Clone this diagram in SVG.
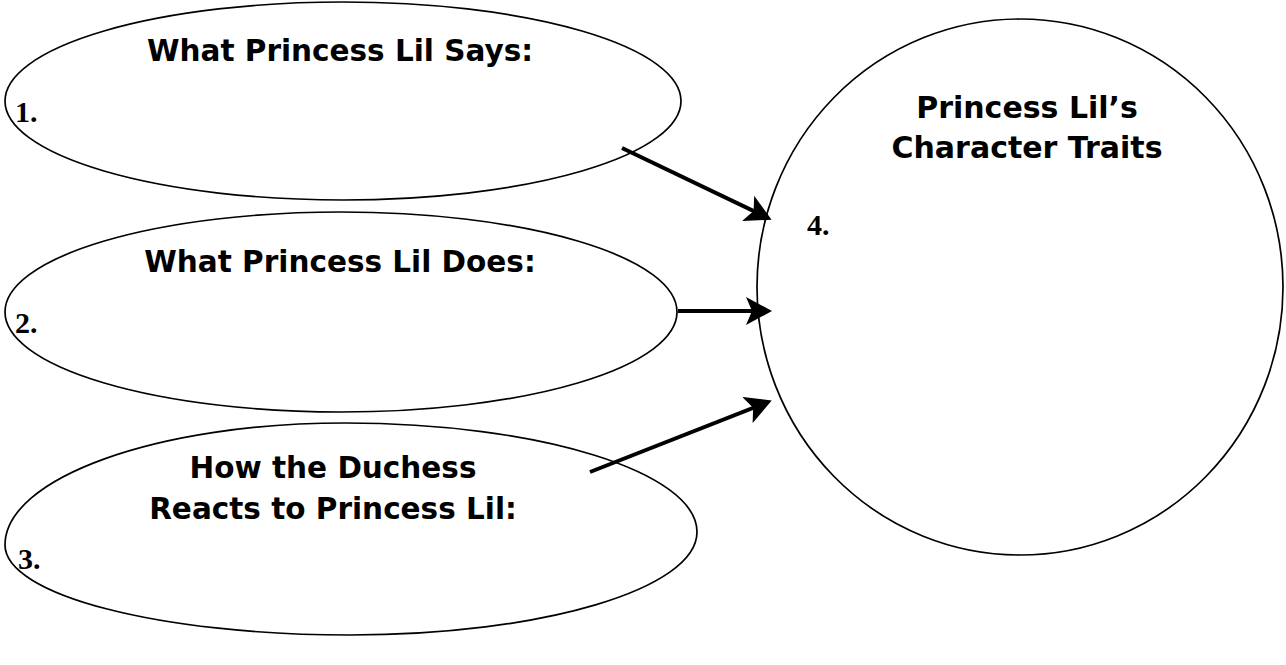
<svg xmlns="http://www.w3.org/2000/svg" width="1286" height="665" viewBox="0 0 1286 665">
<style>
.shape{fill:#fff;stroke:#000;stroke-width:1.7}
.title{font-family:"DejaVu Sans","Liberation Sans",Arial,sans-serif;font-weight:bold;font-size:29.5px;text-anchor:middle;fill:#000}
.big{font-size:30px}
.num{font-family:"Liberation Serif","Times New Roman",serif;font-weight:bold;font-size:30px;fill:#000}
.conn{stroke:#000;stroke-width:4;fill:none}
</style>
<defs>
<marker id="ah" markerWidth="7" markerHeight="7" refX="5.5" refY="3.5" orient="auto" markerUnits="strokeWidth">
<path d="M0,0 L6.5,3.5 L0,7 L1.5,3.5 Z" fill="#000"/>
</marker>
</defs>
<rect width="1286" height="665" fill="#fff"/>
<g id="says">
<ellipse class="shape" cx="343" cy="101" rx="338" ry="99"/>
<text class="title" x="340" y="61">What Princess Lil Says:</text>
<text class="num" x="15" y="122">1.</text>
</g>
<g id="does">
<ellipse class="shape" cx="341" cy="312" rx="336" ry="100"/>
<text class="title" x="340" y="272">What Princess Lil Does:</text>
<text class="num" x="15" y="333">2.</text>
</g>
<g id="reacts">
<path class="shape" d="M5,545 C5,478 157,423 345,423 C539,423 697,472 697,532 C697,589 542,635 350,635 C160,635 5,595 5,545 Z"/>
<text class="title" x="333" y="478">How the Duchess</text>
<text class="title" x="333" y="519">Reacts to Princess Lil:</text>
<text class="num" x="18" y="569">3.</text>
</g>
<g id="traits">
<ellipse class="shape" cx="1020" cy="287" rx="263" ry="268"/>
<text class="title big" x="1027" y="118">Princess Lil’s</text>
<text class="title big" x="1027" y="158">Character Traits</text>
<text class="num" x="807" y="235">4.</text>
</g>
<g id="connectors">
<line class="conn" x1="622" y1="148" x2="768" y2="218" marker-end="url(#ah)"/>
<line class="conn" x1="678" y1="311" x2="768" y2="311" marker-end="url(#ah)"/>
<line class="conn" x1="590" y1="472" x2="768" y2="402" marker-end="url(#ah)"/>
</g>
</svg>
